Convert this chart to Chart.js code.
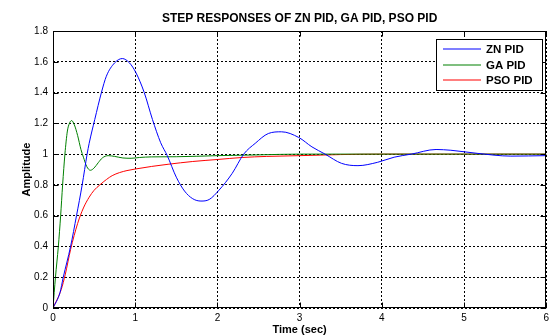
<!DOCTYPE html>
<html><head><meta charset="utf-8">
<script src="https://cdn.jsdelivr.net/npm/chart.js@4/dist/chart.umd.min.js"></script>
<style>html,body{margin:0;padding:0;background:#fff;}canvas{display:block;}</style>
</head><body>
<canvas id="c" width="553" height="336"></canvas>
<script>
const chartTitle = 'STEP RESPONSES OF ZN PID, GA PID, PSO PID';
const xAxisTitle = 'Time (sec)';
const yAxisTitle = 'Amplitude';
const xTicks = [0, 1, 2, 3, 4, 5, 6];
const xTickLabels = ['0', '1', '2', '3', '4', '5', '6'];
const yTicks = [0, 0.2, 0.4, 0.6, 0.8, 1, 1.2, 1.4, 1.6, 1.8];
const yTickLabels = ['0', '0.2', '0.4', '0.6', '0.8', '1', '1.2', '1.4', '1.6', '1.8'];
const seriesNames = ['ZN PID', 'GA PID', 'PSO PID'];
const seriesColors = ['#0000ff', '#008000', '#ff0000'];

const znTime = [0, 0.085, 0.125, 0.214, 0.286, 0.355, 0.415, 0.44, 0.508, 0.589, 0.649, 0.75, 0.843, 0.93, 1.01, 1.11, 1.21, 1.31, 1.39, 1.5, 1.6, 1.7, 1.8, 1.9, 2.02, 2.18, 2.32, 2.46, 2.62, 2.78, 2.99, 3.15, 3.31, 3.51, 3.71, 3.95, 4.15, 4.36, 4.66, 4.84, 5.16, 5.57, 6.0];
const znAmp  = [0, 0.1, 0.2, 0.4, 0.6, 0.8, 1.0, 1.07, 1.225, 1.4, 1.506, 1.593, 1.621, 1.593, 1.528, 1.4, 1.225, 1.074, 0.99, 0.85, 0.76, 0.71, 0.695, 0.705, 0.766, 0.875, 1.0, 1.07, 1.134, 1.145, 1.108, 1.047, 1.0, 0.94, 0.925, 0.947, 0.98, 1.0, 1.03, 1.025, 1.005, 0.987, 0.99];

const gaTime = [0, 0.03, 0.065, 0.093, 0.117, 0.145, 0.175, 0.2, 0.226, 0.26, 0.3, 0.34, 0.37, 0.41, 0.455, 0.5, 0.55, 0.6, 0.67, 0.75, 0.85, 0.95, 1.05, 1.2, 1.5, 2.0, 2.5, 3.0, 4.0, 5.0, 6.0];
const gaAmp  = [0, 0.2, 0.4, 0.6, 0.8, 1.0, 1.15, 1.2, 1.218, 1.19, 1.12, 1.03, 0.98, 0.92, 0.895, 0.91, 0.944, 0.975, 0.99, 0.985, 0.975, 0.973, 0.978, 0.982, 0.983, 0.99, 0.995, 1.0, 1.0, 1.0, 1.0];

const psoTime = [0, 0.1, 0.15, 0.214, 0.3, 0.37, 0.44, 0.5, 0.57, 0.65, 0.72, 0.81, 0.9, 1.0, 1.2, 1.4, 1.7, 2.0, 2.3, 2.6, 3.0, 3.5, 4.0, 5.0, 6.0];
const psoAmp  = [0, 0.12, 0.22, 0.38, 0.55, 0.65, 0.72, 0.765, 0.8, 0.835, 0.86, 0.88, 0.893, 0.903, 0.92, 0.934, 0.952, 0.965, 0.978, 0.985, 0.99, 0.997, 1.0, 1.0, 1.0];

const FONT = '"Liberation Sans", Arial, Helvetica, sans-serif';
Chart.defaults.font.family = FONT;

function pts(t, v) { return t.map((x, i) => ({x: x, y: v[i]})); }
const seriesData = [pts(znTime, znAmp), pts(gaTime, gaAmp), pts(psoTime, psoAmp)];

const decor = {
  id: 'decor',
  afterDraw(chart) {
    const ctx = chart.ctx;
    const a = chart.chartArea;
    const xs = chart.scales.x, ys = chart.scales.y;
    ctx.save();
    ctx.strokeStyle = '#000';
    ctx.lineWidth = 1;
    ctx.setLineDash([]);
    const L = Math.round(a.left) + 0.5, R = Math.round(a.right) - 0.5;
    const T = Math.round(a.top) + 0.5, B = Math.round(a.bottom) - 0.5;
    ctx.strokeRect(L, T, R - L, B - T);
    ctx.beginPath();
    xTicks.forEach(v => {
      const px = Math.round(xs.getPixelForValue(v)) + 0.5;
      ctx.moveTo(px, B); ctx.lineTo(px, B - 5);
      ctx.moveTo(px, T); ctx.lineTo(px, T + 5);
    });
    yTicks.forEach(v => {
      const py = Math.round(ys.getPixelForValue(v)) + 0.5;
      ctx.moveTo(L, py); ctx.lineTo(L + 5, py);
      ctx.moveTo(R, py); ctx.lineTo(R - 5, py);
    });
    ctx.stroke();
    ctx.fillStyle = '#000';
    ctx.textAlign = 'center';
    ctx.textBaseline = 'middle';
    ctx.font = 'bold 12px ' + FONT;
    ctx.fillText(chartTitle, (a.left + a.right) / 2, 19);
    ctx.font = 'bold 11px ' + FONT;
    ctx.fillText(xAxisTitle, (a.left + a.right) / 2, 330);
    ctx.save();
    ctx.translate(27, (a.top + a.bottom) / 2);
    ctx.rotate(-Math.PI / 2);
    ctx.fillText(yAxisTitle, 0, 0);
    ctx.restore();
    const bx = 436.5, by = 39.5, bw = 106, bh = 51;
    ctx.fillStyle = '#fff';
    ctx.fillRect(bx, by, bw, bh);
    ctx.strokeStyle = '#000';
    ctx.lineWidth = 1;
    ctx.strokeRect(bx, by, bw, bh);
    ctx.font = 'bold 11.5px ' + FONT;
    ctx.textAlign = 'left';
    seriesNames.forEach((name, i) => {
      const y = Math.round(49 + i * 15.5);
      ctx.beginPath();
      ctx.strokeStyle = seriesColors[i];
      ctx.lineWidth = 1.2;
      ctx.moveTo(443, y);
      ctx.lineTo(481, y);
      ctx.stroke();
      ctx.fillStyle = '#000';
      ctx.fillText(name, 486, y + 0.5);
    });
    ctx.restore();
  }
};

new Chart(document.getElementById('c'), {
  type: 'line',
  data: {
    datasets: seriesNames.map((name, i) => ({
      label: name,
      data: seriesData[i],
      borderColor: seriesColors[i],
      backgroundColor: seriesColors[i],
      borderWidth: 1,
      pointRadius: 0,
      fill: false,
      cubicInterpolationMode: 'monotone'
    }))
  },
  options: {
    responsive: false,
    animation: false,
    events: [],
    layout: {padding: {top: 31, right: 3, bottom: 0, left: 0}},
    plugins: {legend: {display: false}, title: {display: false}, tooltip: {enabled: false}},
    scales: {
      x: {
        type: 'linear', min: 0, max: 6,
        afterBuildTicks: s => { s.ticks = xTicks.map(v => ({value: v})); },
        afterFit: s => { s.height = 28; },
        ticks: {
          color: '#000', font: {size: 10}, padding: 4, maxRotation: 0,
          callback: (v, i) => xTickLabels[i]
        },
        grid: {color: '#000', lineWidth: 1, drawTicks: false},
        border: {display: false, dash: [2, 2]}
      },
      y: {
        type: 'linear', min: 0, max: 1.8,
        afterBuildTicks: s => { s.ticks = yTicks.map(v => ({value: v})); },
        afterFit: s => { s.width = 53; },
        ticks: {
          color: '#000', font: {size: 10}, padding: 5,
          callback: (v, i) => yTickLabels[i]
        },
        grid: {color: '#000', lineWidth: 1, drawTicks: false},
        border: {display: false, dash: [2, 2]}
      }
    }
  },
  plugins: [decor]
});
</script>
</body></html>
